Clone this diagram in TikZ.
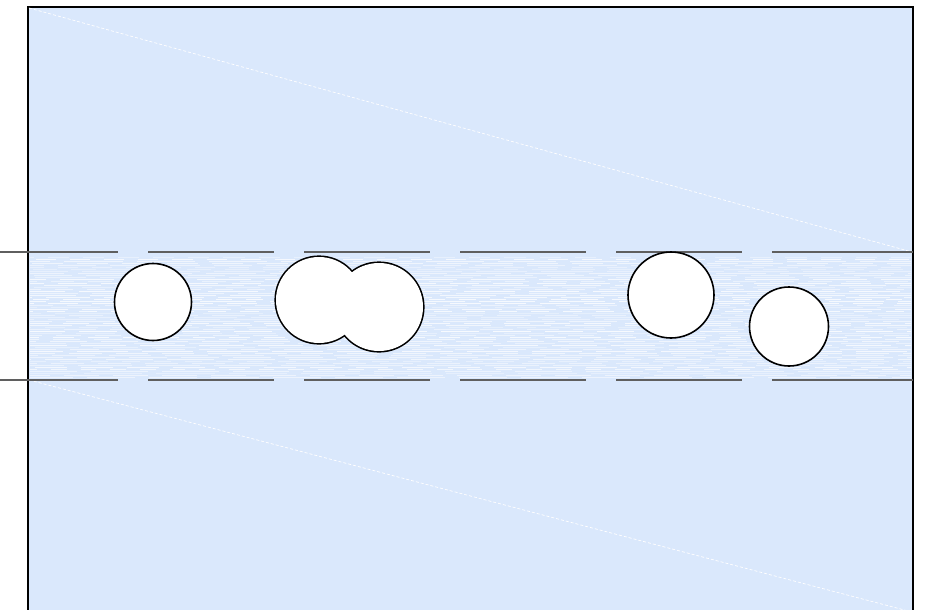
\documentclass[tikz,border=0pt]{standalone}
\begin{document}
\begin{tikzpicture}[x=1pt,y=-1pt,
  bgbox/.style={fill=bluefill,draw=black,line width=2pt},
  guide/.style={draw=guidegray,line width=1.5pt,dash pattern=on 126pt off 30pt,dash phase=8pt},
  guidetail/.style={draw=guidegray,line width=1.5pt},
  ray/.style={draw=white,line width=0.7pt,dash pattern=on 3pt off 2pt},
  hole/.style={circle,draw=black,fill=white,line width=1.6pt,inner sep=0pt},
  holeout/.style={circle,draw=black,fill=white,line width=3.2pt,inner sep=0pt},
  holein/.style={circle,fill=white,inner sep=0pt},
  streak/.style={draw=white,line width=0.7pt}]
\definecolor{bluefill}{HTML}{DAE8FC}
\definecolor{guidegray}{HTML}{5F5F5F}
\useasboundingbox (0,0) rectangle (934,610);
\clip (0,0) rectangle (934,610);
% background box (extends below the page)
\path[bgbox] (28,7) rectangle (913,640);
% faint rays
\coordinate (tl) at (29,8);
\coordinate (tr) at (912,252);
\coordinate (bl) at (29,380);
\coordinate (br) at (912,612);
\draw[ray] (tl) -- (tr);
\draw[ray] (bl) -- (br);
% streaky band texture
\pgfmathsetseed{7}
\foreach \yy in {257,259,...,377}{
  \pgfmathsetmacro{\ph}{rnd*60}
  \pgfmathsetmacro{\on}{15+rnd*45}
  \pgfmathsetmacro{\op}{0.3+rnd*0.5}
  \draw[streak,opacity=\op,dash pattern=on \on pt off 14pt,dash phase=\ph pt] (30,\yy) -- (911,\yy);
}
% guide lines
\coordinate (g1s) at (0,252);
\coordinate (g1m) at (773,252);
\coordinate (g1e) at (913,252);
\coordinate (g2s) at (0,380);
\coordinate (g2m) at (773,380);
\coordinate (g2e) at (913,380);
\draw[guide] (g1s) -- (g1m);
\draw[guide] (g2s) -- (g2m);
\draw[guidetail] (g1m) -- (g1e);
\draw[guidetail] (g2m) -- (g2e);
% holes
\node[hole,minimum size=77pt] (h1) at (153,302) {};
\node[holeout,minimum size=86pt] (h2a) at (319,300) {};
\node[holeout,minimum size=88pt] (h2b) at (379,307) {};
\node[holein,minimum size=86pt] at (h2a.center) {};
\node[holein,minimum size=88pt] at (h2b.center) {};
\node[hole,minimum size=86pt] (h3) at (671,295) {};
\node[hole,minimum size=79pt] (h4) at (789,326.5) {};
\end{tikzpicture}
\end{document}
